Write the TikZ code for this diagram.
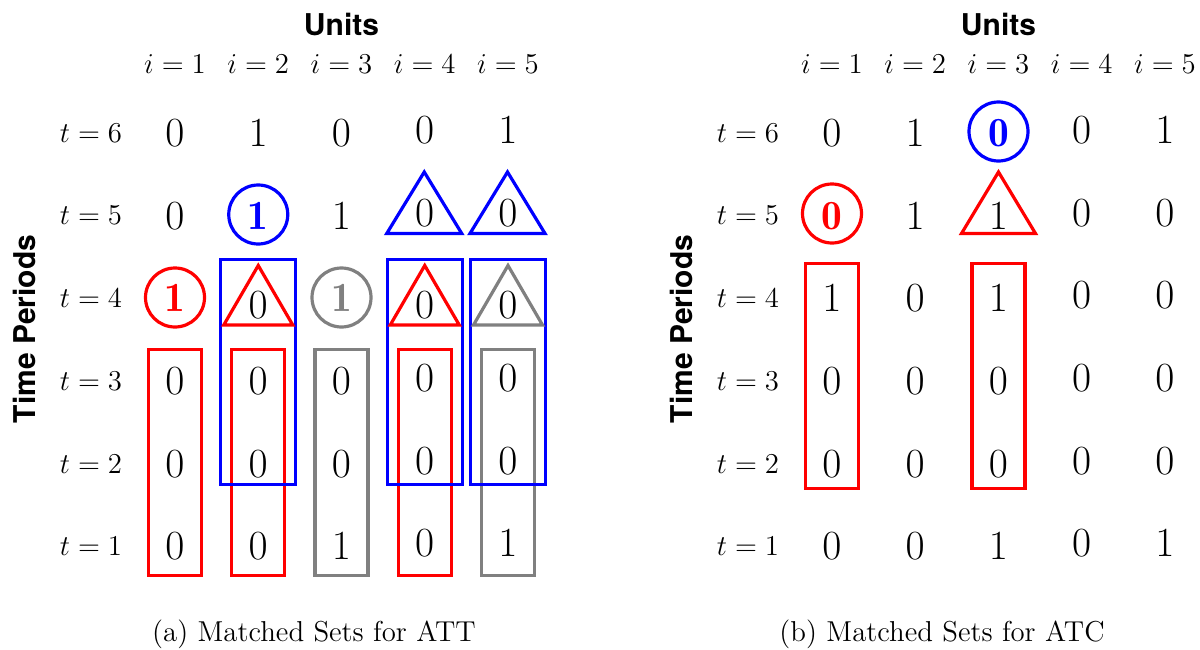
\documentclass[tikz,border=0pt]{standalone}
\usepackage{fontspec}
\newfontfamily\headfont{TeX Gyre Heros}
\definecolor{mygray}{RGB}{128,128,128}
\expandafter\def\csname fmt-L-5-2\endcsname#1{\textcolor{blue}{\mathbf{#1}}}
\expandafter\def\csname fmt-L-4-1\endcsname#1{\textcolor{red}{\mathbf{#1}}}
\expandafter\def\csname fmt-L-4-3\endcsname#1{\textcolor{mygray}{\mathbf{#1}}}
\expandafter\def\csname fmt-R-5-1\endcsname#1{\textcolor{red}{\mathbf{#1}}}
\expandafter\def\csname fmt-R-6-3\endcsname#1{\textcolor{blue}{\mathbf{#1}}}
\expandafter\def\csname ypos-L-4-2\endcsname{305}
\expandafter\def\csname ypos-L-4-4\endcsname{305}
\expandafter\def\csname ypos-L-4-5\endcsname{305}
\begin{document}
\begin{tikzpicture}[x=0.5pt,y=-0.5pt,
  cell/.style={inner sep=0pt, font=\huge},
  lab/.style={inner sep=0pt, font=\Large},
  head/.style={inner sep=0pt, font=\headfont\bfseries\fontsize{15}{18}\selectfont, anchor=base},
  captext/.style={inner sep=0pt, font=\Large, anchor=base},
  shp/.style={line width=1.6pt}]
\path[use as bounding box] (0,0) rectangle (1200,649);
\foreach \pa/\ox in {L/0,R/657}{
  \node[head] (\pa-units) at (341.5+\ox,35) {Units};
  \node[head,rotate=90] (\pa-time) at (35+\ox,329) {Time Periods};
  \foreach \ic in {1,...,5}{
    \node[lab,anchor=base] (\pa-i\ic) at ({175+83.25*(\ic-1)+\ox},73) {$i=\ic$};
  }
  \foreach \tr in {1,...,6}{
    \node[lab] (\pa-t\tr) at (91+\ox,{133+82.7*(6-\tr)}) {$t=\tr$};
  }
  \foreach \tr/\va/\vb/\vc/\vd/\ve in {6/0/1/0/0/1,5/0/1/1/0/0,4/1/0/1/0/0,3/0/0/0/0/0,2/0/0/0/0/0,1/0/0/1/0/1}{
    \foreach \ic/\vv in {1/\va,2/\vb,3/\vc,4/\vd,5/\ve}{
      \ifcsname ypos-\pa-\tr-\ic\endcsname
        \edef\yy{\csname ypos-\pa-\tr-\ic\endcsname}%
      \else
        \pgfmathsetmacro\yy{133+82.7*(6-\tr)+(\ic>3?-3:0)}%
      \fi
      \node[cell] (\pa-\tr-\ic) at ({175+83.25*(\ic-1)+\ox},\yy) {$\csname fmt-\pa-\tr-\ic\endcsname{\vv}$};
    }
  }
}
% captions
\node[captext] (capa) at (314,641) {(a) Matched Sets for ATT};
\node[captext] (capb) at (942,641) {(b) Matched Sets for ATC};
% left panel shapes
\foreach \x/\c in {175/red,258.25/red,341.5/mygray,424.75/red,508/mygray}{
  \draw[shp,\c] (\x-26.5,349.5) rectangle (\x+26.5,575.5);
}
\foreach \x in {258.25,424.75,508}{
  \draw[shp,blue] (\x-37.5,259.5) rectangle (\x+37.5,484.5);
}
\foreach \x/\c in {258.25/red,424.75/red,508/mygray}{
  \draw[shp,\c] (\x,265.5) -- (\x+34.5,325) -- (\x-34.5,325) -- cycle;
}
\foreach \x in {424.25,507.5}{
  \draw[shp,blue] (\x,172) -- (\x+37.5,233.5) -- (\x-37.5,233.5) -- cycle;
}
\draw[shp,blue] (258.25,214.5) circle[radius=29.5];
\draw[shp,red] (175,297.5) circle[radius=29.5];
\draw[shp,mygray] (341.5,297.5) circle[radius=29.5];
% right panel shapes
\foreach \x in {832,998.5}{
  \draw[shp,red] (\x-26.5,263.5) rectangle (\x+26.5,488.5);
}
\draw[shp,red] (998.5,172) -- (998.5+37,233.5) -- (998.5-37,233.5) -- cycle;
\draw[shp,red] (832,213.5) circle[radius=29.5];
\draw[shp,blue] (998.5,131.5) circle[radius=29.5];
\end{tikzpicture}
\end{document}
